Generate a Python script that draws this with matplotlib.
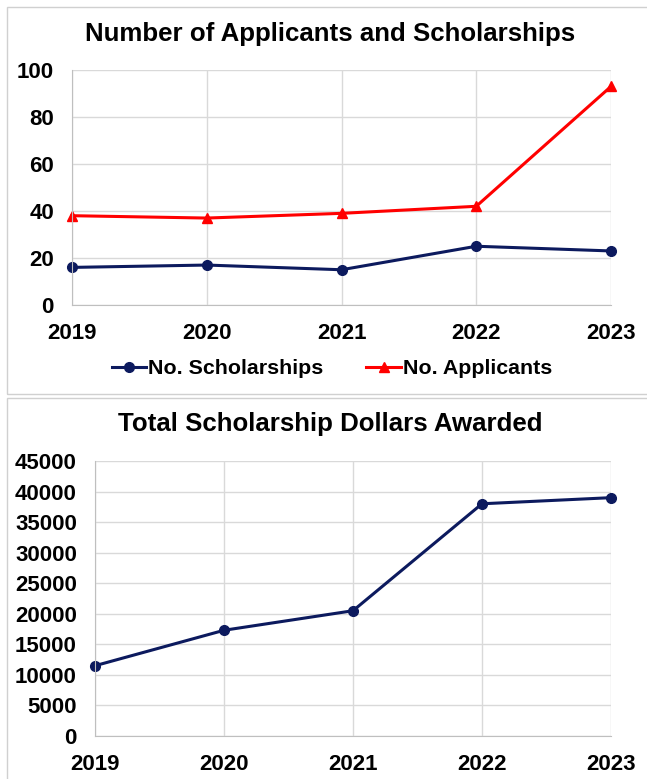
import matplotlib.pyplot as plt
from matplotlib.patches import Rectangle

years = ["2019", "2020", "2021", "2022", "2023"]
scholarships = [16, 17, 15, 25, 23]
applicants = [38, 37, 39, 42, 93]
dollars = [11500, 17300, 20500, 38000, 39000]

navy = "#0c1a5e"
red = "#ff0000"
grid = "#d9d9d9"

plt.rcParams["font.family"] = ["Liberation Sans", "DejaVu Sans"]
plt.rcParams["font.weight"] = "bold"

W, H = 647, 779
fig = plt.figure(figsize=(W / 100, H / 100), dpi=100)

def px(l, t, r, b):
    return [l / W, 1 - b / H, (r - l) / W, (b - t) / H]

# chart frames
fig.patches.append(Rectangle((7 / W, 1 - 394 / H), 645 / W, 387 / H, transform=fig.transFigure,
                             fill=False, ec="#d0d0d0", lw=1))
fig.patches.append(Rectangle((7 / W, 1 - 790 / H), 645 / W, 392 / H, transform=fig.transFigure,
                             fill=False, ec="#d0d0d0", lw=1))

def style(ax, ymax, step):
    x = range(len(years))
    ax.set_xlim(0, len(years) - 1)
    ax.set_ylim(0, ymax)
    ax.set_xticks(list(x))
    ax.set_xticklabels(years)
    ax.set_yticks(range(0, ymax + 1, step))
    ax.grid(True, color=grid, lw=1)
    ax.set_axisbelow(True)
    for s in ["top", "right"]:
        ax.spines[s].set_visible(False)
    for s in ["left", "bottom"]:
        ax.spines[s].set_color("#bfbfbf")
    ax.tick_params(length=0)
    ax.tick_params(axis="x", pad=13, labelsize=16)
    ax.tick_params(axis="y", pad=13, labelsize=16)
    for lab in ax.get_xticklabels() + ax.get_yticklabels():
        lab.set_fontweight("bold")

# top chart
ax1 = fig.add_axes(px(72, 70, 611, 305))
x = range(len(years))
ax1.plot(x, scholarships, color=navy, lw=2.2, marker="o", ms=7, label="No. Scholarships", clip_on=False)
ax1.plot(x, applicants, color=red, lw=2.2, marker="^", ms=7.5, label="No. Applicants", clip_on=False)
style(ax1, 100, 20)
fig.text(330 / W, 1 - 34 / H, "Number of Applicants and Scholarships", ha="center", va="center",
         fontsize=18.6, fontweight="bold")
fig.legend(loc="center", bbox_to_anchor=(332 / W, 1 - 369 / H), ncol=2, frameon=False,
           handlelength=1.6, handletextpad=0.1, columnspacing=2.0,
           prop={"weight": "bold", "size": 15.4})

# bottom chart
ax2 = fig.add_axes(px(95, 461, 611, 736))
ax2.plot(x, dollars, color=navy, lw=2.2, marker="o", ms=7, clip_on=False)
style(ax2, 45000, 5000)
fig.text(330 / W, 1 - 424 / H, "Total Scholarship Dollars Awarded", ha="center", va="center",
         fontsize=18.6, fontweight="bold")

fig.savefig("out.png", dpi=100)
